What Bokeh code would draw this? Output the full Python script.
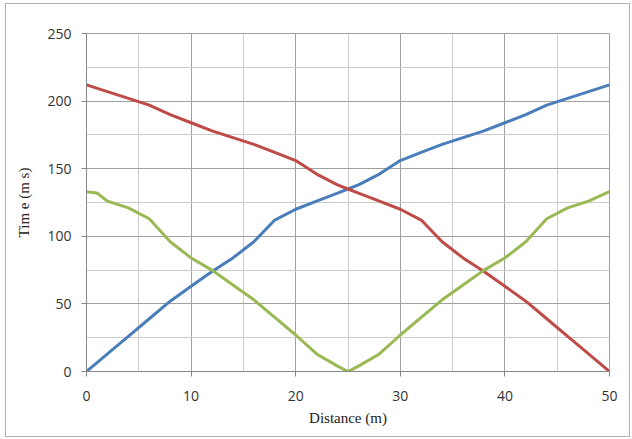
from bokeh.plotting import figure
from bokeh.models import FixedTicker, Range1d
from bokeh.embed import file_html
from bokeh.resources import INLINE

distance = [0, 2, 4, 6, 8, 10, 12, 14, 16, 18, 20, 22, 24, 25, 26, 28, 30, 32, 34, 36, 38, 40, 42, 44, 46, 48, 50]
series_a = [0, 13, 26, 39, 52, 63, 74, 84, 96, 112, 120, 126, 132, 135, 138, 146, 156, 162, 168, 173, 178, 184, 190, 197, 202, 207, 212]
series_b = list(reversed(series_a))
green_distance = [0, 1, 2, 4, 6, 8, 10, 12, 14, 16, 18, 20, 22, 24, 25, 26, 28, 30, 32, 34, 36, 38, 40, 42, 44, 46, 48, 50]
series_c = [133, 132, 126, 121, 113, 96, 84, 75, 64, 53, 40, 27, 13, 4, 0, 4, 13, 27, 40, 53, 64, 75, 84, 96, 113, 121, 126, 133]
x_ticks = [0, 10, 20, 30, 40, 50]
y_ticks = [0, 50, 100, 150, 200, 250]

p = figure(width=625, height=434, output_backend="svg", toolbar_location=None,
           x_range=Range1d(0, 50), y_range=Range1d(0, 250),
           min_border_left=80, min_border_right=22, min_border_top=29, min_border_bottom=67)
p.styles = {"border": "1px solid #b0b0b0", "margin-left": "5px", "margin-top": "3px"}

p.xaxis.ticker = FixedTicker(ticks=x_ticks, minor_ticks=[5, 15, 25, 35, 45])
p.yaxis.ticker = FixedTicker(ticks=y_ticks, minor_ticks=[25, 75, 125, 175, 225])

for g in (p.xgrid, p.ygrid):
    g.grid_line_color = "#a0a0a0"
    g.grid_line_width = 1
    g.minor_grid_line_color = "#cccccc"
    g.minor_grid_line_width = 1
p.outline_line_color = "#a0a0a0"

for ax in (p.xaxis, p.yaxis):
    ax.axis_line_color = "#888888"
    ax.major_tick_line_color = "#888888"
    ax.major_tick_out = 5
    ax.major_tick_in = 0
    ax.minor_tick_line_color = None
    ax.major_label_text_font = "Open Sans"
    ax.major_label_text_font_size = "14px"
    ax.major_label_text_color = "#333333"
    ax.axis_label_text_font = "Liberation Serif"
    ax.axis_label_text_font_style = "normal"
    ax.axis_label_text_font_size = "15px"
    ax.axis_label_text_color = "#222222"

p.xaxis.major_label_standoff = 14
p.yaxis.major_label_standoff = 10
p.xaxis.axis_label = "Distance (m)"
p.yaxis.axis_label = "Tim e (m s)"
p.xaxis.axis_label_standoff = 6
p.yaxis.axis_label_standoff = 12

p.line(distance, series_a, line_color="#4A7EBB", line_width=3)
p.line(distance, series_b, line_color="#BE4B48", line_width=3)
p.line(green_distance, series_c, line_color="#98B954", line_width=3)

open("out.html", "w").write(file_html(p, INLINE))
